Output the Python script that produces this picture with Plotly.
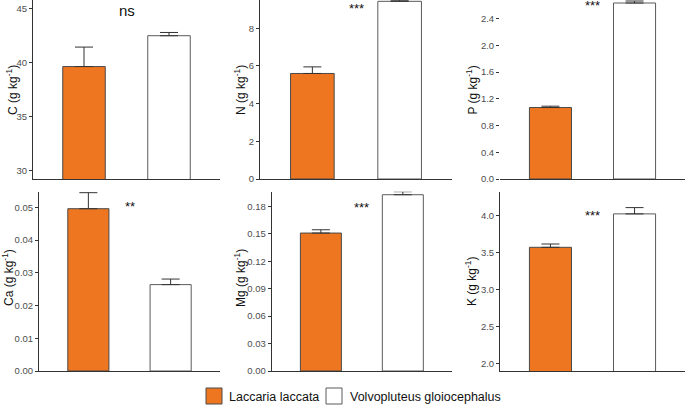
import plotly.graph_objects as go

W, H = 685, 405

species = ["Laccaria laccata", "Volvopluteus gloiocephalus"]
elements = ["C", "N", "P", "Ca", "Mg", "K"]

# means per element: [Laccaria laccata, Volvopluteus gloiocephalus]
C_mean = [39.65, 42.5]
C_se = [1.8, 0.3]
N_mean = [5.6, 9.43]
N_se = [0.35, 0.06]
P_mean = [1.07, 2.635]
P_se = [0.02, 0.03]
Ca_mean = [0.0496, 0.0264]
Ca_se = [0.0049, 0.0017]
Mg_mean = [0.1508, 0.1927]
Mg_se = [0.0036, 0.0033]
K_mean = [3.568, 4.02]
K_se = [0.045, 0.085]

signif = ["ns", "***", "***", "**", "***", "***"]
signif_y = [44.85, 9.03, 2.6, 0.0502, 0.179, 4.0]

means = [C_mean, N_mean, P_mean, Ca_mean, Mg_mean, K_mean]
ses = [C_se, N_se, P_se, Ca_se, Mg_se, K_se]

y_ranges = [[29.26, 45.8], [0, 9.5], [0, 2.68], [0, 0.0548], [0, 0.196], [1.896, 4.32]]
y_ticks = [[30, 35, 40, 45], [0, 2, 4, 6, 8],
           [0.0, 0.4, 0.8, 1.2, 1.6, 2.0, 2.4],
           [0.0, 0.01, 0.02, 0.03, 0.04, 0.05],
           [0.0, 0.03, 0.06, 0.09, 0.12, 0.15, 0.18],
           [2.0, 2.5, 3.0, 3.5, 4.0]]
tick_fmt = [".0f", ".0f", ".1f", ".2f", ".2f", ".1f"]

fills = ["#EE7621", "#FFFFFF"]
outlines = ["#4A4A4A", "#5A5A5A"]

# panel geometry (pixels): left, right, top, bottom
panels = [
    (33, 220, 0, 179),
    (260, 452, 0, 179),
    (500, 685, 0, 179),
    (39, 220, 191.7, 371),
    (271.7, 452, 191.7, 371),
    (500, 685, 191.7, 371),
]
title_pos = [(12, 90), (240, 90), (471.5, 90), (8, 278), (240, 278), (471, 282)]
show_yline = [True, True, False, True, True, True]

FONT = "Liberation Sans, Arial"

fig = go.Figure()
annotations = []
shapes = []
for i, el in enumerate(elements):
    n = i + 1
    xa = "x" if n == 1 else f"x{n}"
    ya = "y" if n == 1 else f"y{n}"
    for j, sp in enumerate(species):
        fig.add_trace(go.Bar(
            x=[sp], y=[means[i][j]], name=sp,
            xaxis=xa, yaxis=ya, width=0.5,
            marker=dict(color=fills[j], line=dict(color=outlines[j], width=1)),
            error_y=dict(type="data", symmetric=False, array=[ses[i][j]], arrayminus=[0],
                         color="#333333", thickness=1, width=9),
            showlegend=False,
        ))
    l, r, t, b = panels[i]
    layout_x = dict(domain=[l / W, r / W], anchor=ya, type="category",
                    range=[-0.6, 1.6], showticklabels=False, ticks="",
                    showline=True, linecolor="#333333", linewidth=1,
                    showgrid=False, zeroline=False, fixedrange=True)
    layout_y = dict(domain=[1 - b / H, 1 - t / H], anchor=xa, range=y_ranges[i],
                    tickvals=y_ticks[i], tickformat=tick_fmt[i],
                    ticks="outside", ticklen=3, tickcolor="#333333", tickwidth=1,
                    tickfont=dict(size=9.5, color="#4D4D4D", family=FONT),
                    showline=show_yline[i], linecolor="#333333", linewidth=1,
                    showgrid=False, zeroline=False)
    fig.layout["xaxis" if n == 1 else f"xaxis{n}"] = layout_x
    fig.layout["yaxis" if n == 1 else f"yaxis{n}"] = layout_y
    annotations.append(dict(
        x=0.5, y=signif_y[i], xref=xa, yref=ya, text=signif[i], showarrow=False,
        font=dict(size=15 if signif[i] == "ns" else 13, color="#111111", family=FONT),
        yanchor="middle", xanchor="center"))
    tx, ty = title_pos[i]
    annotations.append(dict(
        x=tx / W, y=1 - ty / H, xref="paper", yref="paper",
        text=f"{el} (g kg<sup>-1</sup>)", showarrow=False, textangle=-90,
        font=dict(size=12, color="#111111", family=FONT),
        xanchor="center", yanchor="middle"))

# custom legend (keys + labels) at the bottom
legend_keys = [(206, 222), (326, 342)]
legend_text_x = [227, 348]
for j, sp in enumerate(species):
    x0, x1 = legend_keys[j]
    shapes.append(dict(type="rect", xref="paper", yref="paper",
                       x0=x0 / W, x1=x1 / W, y0=1 - 404 / H, y1=1 - 388 / H,
                       fillcolor=fills[j], line=dict(color=outlines[j], width=1)))
    annotations.append(dict(
        x=legend_text_x[j] / W, y=1 - 396.5 / H, xref="paper", yref="paper",
        text=sp, showarrow=False, xanchor="left", yanchor="middle",
        font=dict(size=12.5, color="#111111", family=FONT)))

fig.update_layout(
    width=W, height=H,
    margin=dict(l=0, r=0, t=0, b=0, pad=0, autoexpand=False),
    paper_bgcolor="white", plot_bgcolor="white",
    bargap=0,
    showlegend=False,
    hovermode=False,
    annotations=annotations,
    shapes=shapes,
    font=dict(family=FONT),
)

fig.write_html("out.html",
               config={"displayModeBar": False, "staticPlot": True},
               post_script="document.body.style.margin='0';document.body.style.padding='0';document.body.style.overflow='hidden';")
